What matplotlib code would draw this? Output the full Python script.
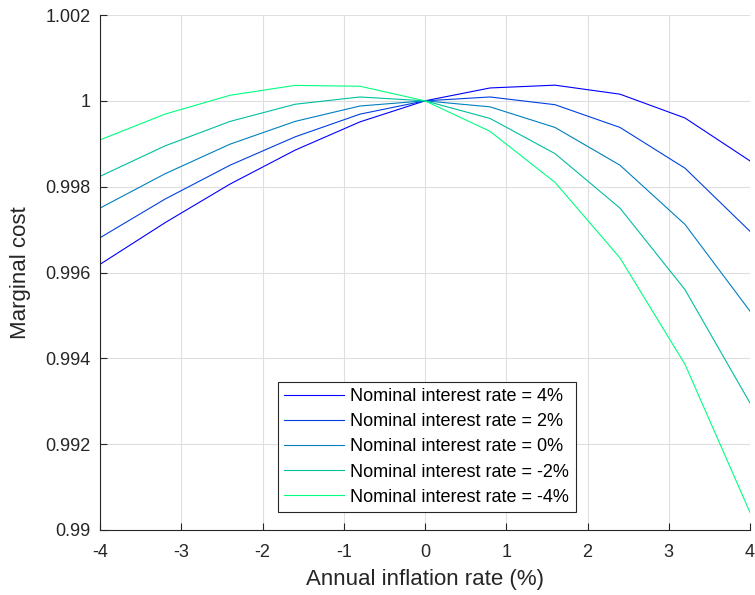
import numpy as np
import matplotlib
matplotlib.use("Agg")
import matplotlib.pyplot as plt

plt.rcParams['font.family'] = ['Liberation Sans', 'DejaVu Sans']

# annual inflation rate (%)
inflation = [-4, -3.2, -2.4, -1.6, -0.8, 0, 0.8, 1.6, 2.4, 3.2, 4]

# marginal cost for each nominal interest rate
mc_4 = [0.99619, 0.99716, 0.99806, 0.99885, 0.99951, 1.0, 1.00030, 1.000365, 1.000155, 0.99960, 0.99860]
mc_2 = [0.99681, 0.99771, 0.99850, 0.99916, 0.99969, 1.0, 1.00009, 0.99991, 0.99938, 0.99843, 0.99696]
mc_0 = [0.99750, 0.99830, 0.99899, 0.99952, 0.99988, 1.0, 0.99986, 0.99938, 0.99850, 0.99712, 0.99510]
mc_m2 = [0.99824, 0.99895, 0.99952, 0.99992, 1.00009, 1.0, 0.99959, 0.99877, 0.99750, 0.99560, 0.99296]
mc_m4 = [0.99909, 0.99969, 1.00013, 1.00036, 1.00034, 1.0, 0.99929, 0.99810, 0.99634, 0.99386, 0.99041]

series = [mc_4, mc_2, mc_0, mc_m2, mc_m4]
labels = ['Nominal interest rate = 4%', 'Nominal interest rate = 2%',
          'Nominal interest rate = 0%', 'Nominal interest rate = -2%',
          'Nominal interest rate = -4%']

xticks = [-4, -3, -2, -1, 0, 1, 2, 3, 4]
yticks = [0.99, 0.992, 0.994, 0.996, 0.998, 1.0, 1.002]
yticklabels = ['0.99', '0.992', '0.994', '0.996', '0.998', '1', '1.002']

# MATLAB "winter" colormap, 5 colours
colors = [(0, 0, 1), (0, 0.25, 0.875), (0, 0.5, 0.75), (0, 0.75, 0.625), (0, 1, 0.5)]

fig = plt.figure(figsize=(7.55, 5.95), dpi=100)
ax = fig.add_axes([100/755, 65/595, 650/755, 515/595])

for y, lab, c in zip(series, labels, colors):
    ax.plot(inflation, y, color=c, lw=0.8, label=lab)

ax.set_xlim(-4, 4)
ax.set_ylim(0.99, 1.002)
ax.set_xticks(xticks)
ax.set_xticklabels([str(t) for t in xticks])
ax.set_yticks(yticks)
ax.set_yticklabels(yticklabels)
ax.tick_params(direction='in', length=5, width=0.8, labelsize=13, colors='#262626')
ax.tick_params(axis='x', pad=10)
ax.tick_params(axis='y', pad=7)
ax.grid(True, color='#dfdfdf', lw=0.8)
ax.set_axisbelow(True)

for s in ['top', 'right']:
    ax.spines[s].set_visible(False)
for s in ['left', 'bottom']:
    ax.spines[s].set_color('#262626')
    ax.spines[s].set_linewidth(0.8)

ax.set_xlabel('Annual inflation rate (%)', fontsize=16, color='#262626', labelpad=6)
ax.set_ylabel('Marginal cost', fontsize=16, color='#262626', labelpad=10)

leg = ax.legend(loc='lower left', bbox_to_anchor=(0.274, 0.035), fontsize=13,
                fancybox=False, framealpha=1, edgecolor='#262626',
                handlelength=3.3, handletextpad=0.35, labelspacing=0.45,
                borderpad=0.35, borderaxespad=0)
leg.get_frame().set_linewidth(0.8)

plt.savefig('out.png', dpi=100)
